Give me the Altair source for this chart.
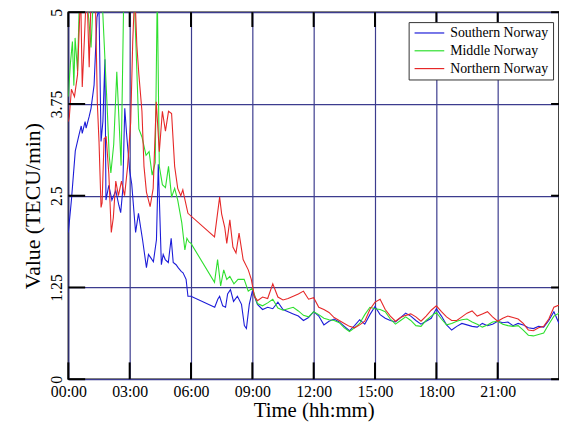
import altair as alt
import pandas as pd

# ---------------- data ----------------
series_names = ["Southern Norway", "Middle Norway", "Northern Norway"]
series_colors = ["#1c1cd8", "#2edf2e", "#e62828"]

south_early_t = [0.0, 0.15, 0.34, 0.53, 0.63, 0.68, 0.82, 0.87, 1.02, 1.11,
                 1.26, 1.40, 1.50, 1.60, 1.69, 1.79, 1.84, 1.98, 2.13, 2.32,
                 2.47, 2.56, 2.66, 2.76, 2.85, 3.0, 3.10, 3.29, 3.43, 3.63,
                 3.82, 3.92, 4.02, 4.16, 4.31, 4.40, 4.55, 4.64, 4.74, 4.89,
                 5.03, 5.13, 5.27, 5.37, 5.52, 5.61, 5.76, 5.85, 6.0, 7.16,
                 7.31, 7.40, 7.55, 7.69, 7.79, 7.93, 8.08, 8.27, 8.47, 8.61,
                 8.71, 8.85]
south_early_v = [2.0, 2.44, 3.11, 3.34, 3.45, 3.35, 3.51, 3.42, 3.58, 3.69,
                 4.01, 4.93, 5.05, 3.24, 3.51, 4.36, 2.44, 2.64, 2.44, 2.57,
                 2.37, 2.27, 2.57, 3.69, 3.34, 2.84, 2.66, 2.0, 2.26, 1.90,
                 1.52, 1.70, 1.66, 1.60, 1.90, 2.93, 1.56, 1.70, 1.63, 1.59,
                 1.92, 1.59, 1.56, 1.52, 1.47, 1.45, 1.36, 1.13, 1.13, 0.98,
                 1.09, 1.13, 1.0, 0.98, 1.16, 1.22, 1.06, 1.13, 1.02, 0.73,
                 0.69, 1.02]

middle_early_t = [0.0, 0.1, 0.2, 0.27, 0.33, 0.45, 0.55, 0.8, 1.0, 1.11,
                  1.25, 1.6, 1.9, 2.0, 2.08, 2.22, 2.37, 2.58, 2.72, 3.2,
                  3.45, 3.6, 3.8, 3.95, 4.1, 4.25, 4.35, 4.45, 4.6, 4.75,
                  4.9, 5.05, 5.2, 5.35, 5.55, 5.7, 5.8, 5.9, 6.0, 7.15,
                  7.3, 7.45, 7.6, 7.75, 7.9, 8.1, 8.3, 8.6, 8.8]
middle_early_v = [3.85, 4.3, 4.6, 4.0, 4.65, 4.2, 5.3, 5.5, 4.9, 4.52,
                  5.4, 5.5, 3.7, 3.04, 2.81, 3.2, 4.19, 2.91, 5.4, 5.4,
                  3.41, 3.3, 3.05, 3.1, 2.78, 2.95, 5.3, 2.9, 2.65, 2.61,
                  2.9, 2.48, 2.6, 2.44, 2.13, 1.76, 1.92, 1.87, 1.85, 1.32,
                  1.63, 1.27, 1.49, 1.36, 1.40, 1.30, 1.36, 1.36, 1.20]

north_early_t = [0.0, 0.05, 0.15, 0.3, 0.45, 0.6, 0.68, 0.78, 0.9, 1.02,
                 1.12, 1.3, 1.42, 1.5, 1.6, 1.65, 1.75, 1.85, 1.98, 2.1,
                 2.2, 2.32, 2.45, 2.6, 2.75, 2.9, 3.05, 3.15, 3.25, 3.35,
                 3.45, 3.6, 3.7, 3.82, 4.0, 4.15, 4.3, 4.45, 4.6, 4.75,
                 4.9, 5.05, 5.2, 5.35, 5.5, 5.6, 5.7, 5.85, 7.15, 7.4,
                 7.5, 7.65, 7.75, 7.9, 8.05, 8.2, 8.35, 8.55, 8.8, 8.95,
                 9.1]
north_early_v = [3.51, 3.58, 3.95, 3.85, 4.15, 5.3, 3.98, 4.6, 5.4, 4.25,
                 5.3, 5.5, 3.75, 3.24, 2.34, 2.4, 3.28, 3.3, 2.8, 2.0,
                 2.2, 2.7, 2.5, 2.7, 2.5, 2.9, 3.5, 4.6, 5.3, 4.55,
                 4.15, 3.65, 2.9, 2.55, 2.35, 2.6, 3.78, 3.1, 3.65, 3.38,
                 3.65, 3.62, 2.9, 2.6, 2.5, 2.58, 2.45, 2.26, 1.94, 2.48,
                 2.25, 2.07, 1.85, 2.17, 1.8, 1.72, 1.99, 1.63, 1.49, 1.36,
                 1.13]

quiet_t = [9.0, 9.25, 9.5, 9.75, 10.0, 10.25, 10.5, 10.75, 11.0, 11.25,
           11.5, 11.75, 12.0, 12.25, 12.5, 12.75, 13.0, 13.25, 13.5, 13.75,
           14.0, 14.25, 14.5, 14.75, 15.0, 15.25, 15.5, 15.75, 16.0, 16.25,
           16.5, 16.75, 17.0, 17.25, 17.5, 17.75, 18.0, 18.25, 18.5, 18.75,
           19.0, 19.25, 19.5, 19.75, 20.0, 20.25, 20.5, 20.75, 21.0, 21.25,
           21.5, 21.75, 22.0, 22.25, 22.5, 22.75, 23.0, 23.25, 23.5, 23.75,
           24.0]
south_quiet_v = [1.20, 1.02, 0.95, 0.98, 0.96, 1.05, 0.95, 0.92, 0.89, 0.86,
                 0.80, 0.84, 0.92, 0.86, 0.74, 0.79, 0.82, 0.78, 0.72, 0.66,
                 0.73, 0.81, 0.75, 0.88, 0.99, 0.88, 0.83, 0.80, 0.78, 0.84,
                 0.90, 0.86, 0.80, 0.75, 0.79, 0.83, 0.96, 0.86, 0.74, 0.67,
                 0.72, 0.76, 0.74, 0.72, 0.71, 0.76, 0.73, 0.75, 0.79, 0.77,
                 0.78, 0.73, 0.76, 0.74, 0.70, 0.69, 0.72, 0.71, 0.80, 0.92,
                 0.76]
middle_quiet_v = [1.24, 1.03, 1.00, 1.04, 1.09, 0.97, 0.94, 0.96, 0.98, 0.93,
                  0.87, 0.85, 0.92, 0.88, 0.83, 0.81, 0.80, 0.77, 0.70, 0.65,
                  0.70, 0.76, 0.88, 0.98, 0.96, 0.95, 0.92, 0.82, 0.75, 0.80,
                  0.85, 0.80, 0.73, 0.72, 0.80, 0.86, 0.91, 0.82, 0.74, 0.76,
                  0.79, 0.81, 0.82, 0.78, 0.75, 0.71, 0.74, 0.78, 0.79, 0.75,
                  0.73, 0.72, 0.73, 0.67, 0.60, 0.59, 0.61, 0.63, 0.75, 0.86,
                  0.90]
north_quiet_t = quiet_t[1:]
north_quiet_v = [1.07, 1.12, 1.10, 1.30, 1.12, 1.08, 1.10, 1.13, 1.16, 1.20,
                 1.09, 1.11, 0.98, 0.95, 0.91, 0.84, 0.80, 0.76, 0.72, 0.70,
                 0.74, 0.79, 0.95, 1.05, 1.09, 0.95, 0.86, 0.79, 0.84, 0.87,
                 0.89, 0.85, 0.79, 0.86, 0.94, 1.00, 0.92, 0.85, 0.80, 0.80,
                 0.85, 0.90, 0.93, 0.86, 0.89, 0.92, 0.85, 0.79, 0.83, 0.86,
                 0.84, 0.82, 0.76, 0.67, 0.66, 0.70, 0.72, 0.82, 0.98, 1.01]

x_tick_values = [0, 3, 6, 9, 12, 15, 18, 21]
x_tick_labels = ["00:00", "03:00", "06:00", "09:00", "12:00", "15:00", "18:00", "21:00"]
y_tick_values = [0, 1.25, 2.5, 3.75, 5]
y_tick_labels = ["0", "1.25", "2.5", "3.75", "5"]

# ---------------- tables ----------------
rows = []
parts = [
    (series_names[0], south_early_t + quiet_t, south_early_v + south_quiet_v),
    (series_names[1], middle_early_t + quiet_t, middle_early_v + middle_quiet_v),
    (series_names[2], north_early_t + north_quiet_t, north_early_v + north_quiet_v),
]
for name, ts, vs in parts:
    for t, v in zip(ts, vs):
        rows.append({"series": name, "hour": t, "value": v})
df = pd.DataFrame(rows)

xt = pd.DataFrame({"hour": x_tick_values})
yt = pd.DataFrame({"value": y_tick_values})

def label_expr(vals, labels):
    m = ",".join("'%s':'%s'" % (str(v), l) for v, l in zip(vals, labels))
    return "{" + m + "}[''+datum.value]"

W, H = 496, 371
FONT = "Liberation Serif"
GRID = "#3c3c8e"

x_scale = alt.Scale(domain=[0, 24], nice=False, zero=False)
y_scale = alt.Scale(domain=[0, 5], nice=False)

x_axis = alt.Axis(values=x_tick_values, labelExpr=label_expr(x_tick_values, x_tick_labels),
                  title="Time (hh:mm)", grid=True, gridColor=GRID, gridWidth=1.2, gridOpacity=1,
                  ticks=False, tickSize=0, domain=False, labelFont=FONT, labelFontSize=16,
                  labelColor="black", labelBaseline="alphabetic", labelPadding=17,
                  labelFlush=False, labelOverlap=False, labelAlign="center",
                  titleFont=FONT, titleFontSize=21, titleFontWeight="normal",
                  titleColor="black", titleBaseline="alphabetic", titleY=38, titleX=W / 2)
y_axis = alt.Axis(values=y_tick_values, labelExpr=label_expr(y_tick_values, y_tick_labels),
                  title="Value (TECU/min)", grid=True, gridColor=GRID, gridWidth=1.2, gridOpacity=1,
                  ticks=False, tickSize=0, domain=False, labelFont=FONT, labelFontSize=16,
                  labelColor="black", labelAngle=270, labelAlign="center",
                  labelBaseline="alphabetic", labelPadding=7, labelOverlap=False,
                  labelFlush=False,
                  titleFont=FONT, titleFontSize=22, titleFontWeight="normal", titleColor="black",
                  titleAngle=270, titleBaseline="alphabetic", titleX=-29, titleY=H / 2 + 10)

X_ENC = alt.X("hour:Q", scale=x_scale, axis=x_axis)
Y_ENC = alt.Y("value:Q", scale=y_scale, axis=y_axis)

lines = alt.Chart(df).mark_line(strokeWidth=1.1, clip=True).encode(
    x=X_ENC,
    y=Y_ENC,
    color=alt.Color("series:N", scale=alt.Scale(domain=series_names, range=series_colors),
                    legend=alt.Legend(title=None, orient="none", legendX=344, legendY=10,
                                      direction="vertical", fillColor="white",
                                      strokeColor="#333333", padding=4,
                                      symbolType="M-1,0H5", symbolSize=100,
                                      symbolStrokeWidth=1.2, labelFont=FONT,
                                      labelFontSize=14, labelColor="black",
                                      labelOffset=24, rowPadding=4, labelLimit=300)),
    detail="series:N",
)

tick_color = "black"
bottom_ticks = alt.Chart(xt).mark_rule(color=tick_color, strokeWidth=2).encode(
    x=X_ENC, y=alt.value(H), y2=alt.value(H - 17))
top_ticks = alt.Chart(xt).mark_rule(color=tick_color, strokeWidth=2).encode(
    x=X_ENC, y=alt.value(0), y2=alt.value(15))
left_ticks = alt.Chart(yt).mark_rule(color=tick_color, strokeWidth=2).encode(
    y=Y_ENC, x=alt.value(0), x2=alt.value(17))
right_ticks = alt.Chart(yt).mark_rule(color=tick_color, strokeWidth=2).encode(
    y=Y_ENC, x=alt.value(W), x2=alt.value(W - 8))

chart = alt.layer(lines, bottom_ticks, top_ticks, left_ticks, right_ticks).properties(
    width=W, height=H,
    padding={"left": 61, "top": 2, "right": 0, "bottom": 41},
    autosize=alt.AutoSizeParams(type="none"),
).configure_view(stroke="black", strokeWidth=1.5)

chart.save("out.html", embed_options={"renderer": "svg", "actions": False})
